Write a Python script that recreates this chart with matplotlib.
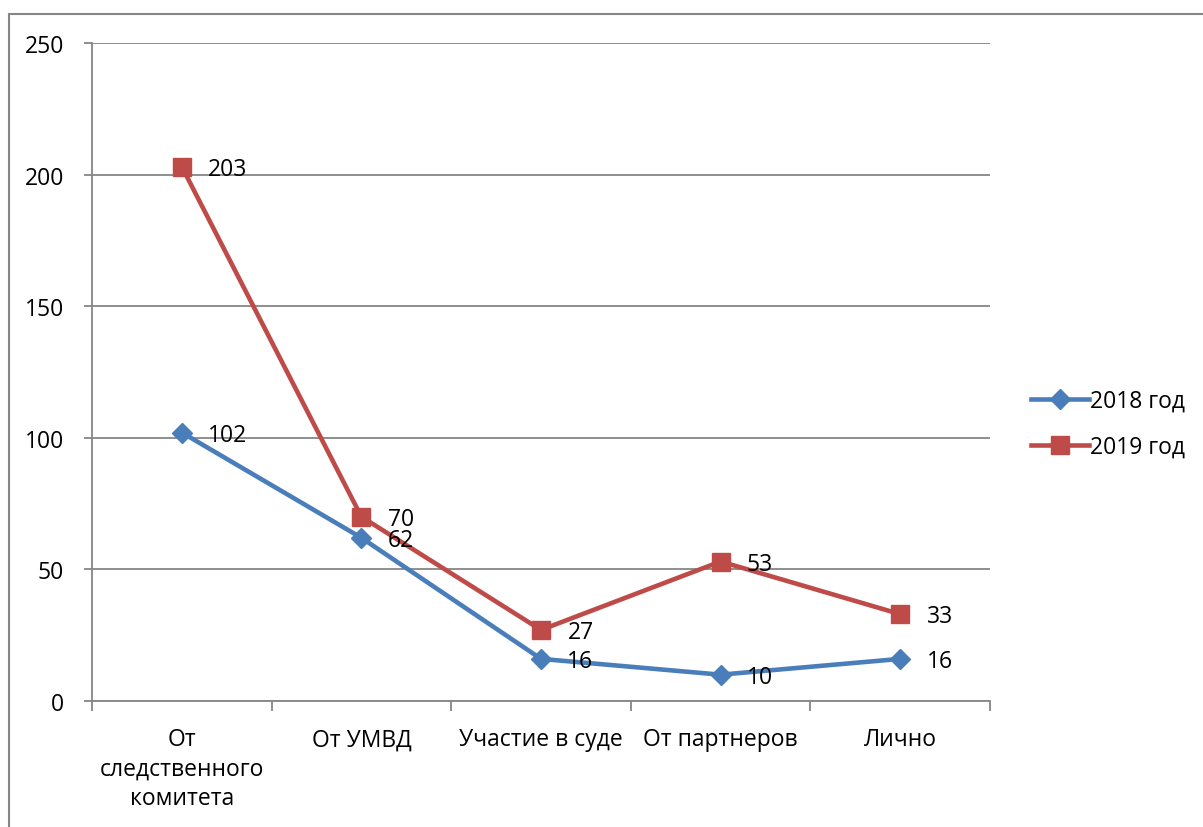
import matplotlib.pyplot as plt
import matplotlib.patches as mpatches
import numpy as np

plt.rcParams['font.family'] = ['Open Sans', 'DejaVu Sans']

categories = ['От\nследственного\nкомитета', 'От УМВД', 'Участие в суде',
              'От партнеров', 'Лично']
series_2018 = [102, 62, 16, 10, 16]
series_2019 = [203, 70, 27, 53, 33]
labels = ['2018 год', '2019 год']

W, H = 1203, 828
fs = 16.5
fig = plt.figure(figsize=(W / 100, H / 100), dpi=100)
ax = fig.add_axes([92 / W, 1 - 702 / H, (990 - 92) / W, (702 - 44) / H])

# outer chart border (only left/top visible in the reference)
fig.patches.append(mpatches.Rectangle((9 / W, -0.05), 1.2, 1 - 15 / H + 0.05,
                                      transform=fig.transFigure, fill=False,
                                      edgecolor='#868686', lw=1.5))

grid_c = '#868686'
x = np.arange(len(categories))
ax.plot(x, series_2018, color='#4A7EBB', lw=3.3, marker='D', ms=10,
        label=labels[0], zorder=3)
ax.plot(x, series_2019, color='#BE4B48', lw=3.3, marker='s', ms=13,
        label=labels[1], zorder=4)

for xs, ys in [(x, series_2018), (x, series_2019)]:
    for xi, yi in zip(xs, ys):
        ax.annotate(str(yi), (xi, yi), xytext=(19, -1.5), textcoords='offset points',
                    va='center', ha='left', fontsize=fs, zorder=5)

ax.set_xlim(-0.5, len(categories) - 0.5)
ax.set_ylim(0, 250)
ax.set_yticks(np.arange(0, 251, 50))
ax.yaxis.grid(True, color=grid_c, lw=1.3)
ax.set_axisbelow(True)
ax.tick_params(axis='y', labelsize=fs, length=6, color=grid_c, width=1.3, pad=14)

ax.set_xticks(x)
ax.set_xticklabels(categories, fontsize=fs, linespacing=1.3)
ax.tick_params(axis='x', length=0, pad=19)
ax.set_xticks(np.arange(-0.5, len(categories)), minor=True)
ax.tick_params(axis='x', which='minor', length=7, color=grid_c, width=1.3)

for s in ['top', 'right']:
    ax.spines[s].set_visible(False)
for s in ['left', 'bottom']:
    ax.spines[s].set_color(grid_c)
    ax.spines[s].set_linewidth(1.3)

fig.legend(loc='center left', bbox_to_anchor=(1020 / W, 1 - 425 / H),
           frameon=False, fontsize=fs, handlelength=2.5, handletextpad=0.05,
           labelspacing=0.95, borderpad=0)

fig.savefig('out.png', dpi=100)
